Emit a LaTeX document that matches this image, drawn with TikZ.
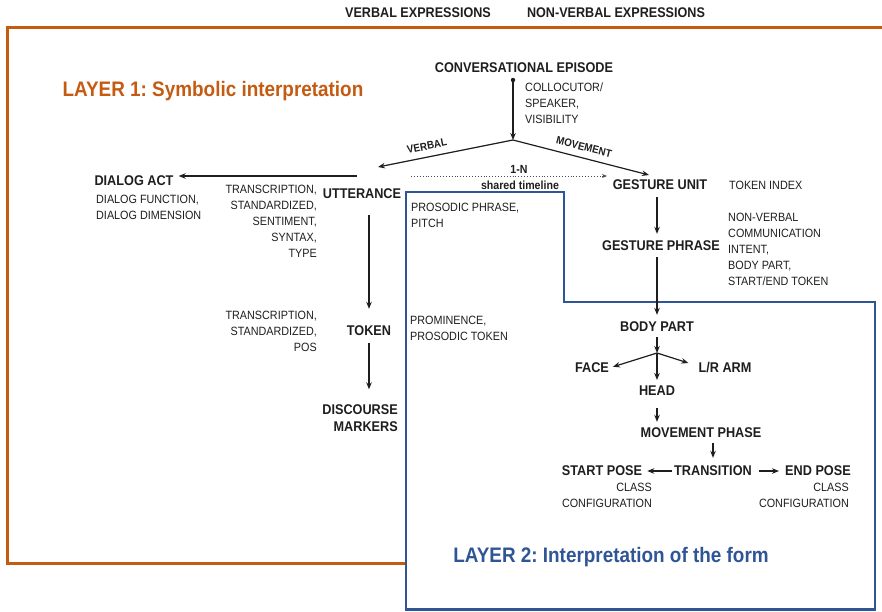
\documentclass[tikz,border=0pt]{standalone}
\usepackage{fontspec}
\setmainfont[FakeStretch=0.9]{Liberation Sans}
\usetikzlibrary{arrows.meta}
\definecolor{orng}{RGB}{197,90,17}
\definecolor{blu}{RGB}{47,85,151}
\definecolor{ink}{RGB}{30,30,30}
\frenchspacing
\begin{document}
\begin{tikzpicture}[x=1pt,y=-1pt,
  lbl/.style={font=\bfseries\fontsize{14.1}{17}\selectfont, inner sep=0pt, text=ink},
  hdr/.style={font=\bfseries\fontsize{14}{14}\selectfont, inner sep=0pt, text=ink},
  attr/.style={font=\fontsize{12}{16}\selectfont, inner sep=0pt, text=ink},
  sml/.style={font=\bfseries\fontsize{11.8}{12}\selectfont, inner sep=0pt, text=ink},
  slope/.style={font=\bfseries\fontsize{10.9}{12}\selectfont, inner sep=0pt, text=ink},
  layer/.style={font=\bfseries\fontsize{21}{22}\selectfont, inner sep=0pt},
  arr/.style={-{Stealth[length=7pt,width=5.5pt]}, line width=1.2pt, draw=ink},
  dotarr/.style={-{Stealth[length=5pt,width=4pt]}, line width=0.9pt, dotted, draw=ink!80}]
\useasboundingbox (0,0) rectangle (882,611);
% frames
\draw[orng, line width=3pt] (885,27) -- (7,27) -- (7,563) -- (406,563);
\draw[blu, line width=2.4pt, fill=white] (406,609.5) -- (406,192) -- (564,192) -- (564,302) -- (875,302) -- (875,609.5) -- cycle;
% headers
\node[hdr] (hv) at (418,13) {VERBAL EXPRESSIONS};
\node[hdr] (hnv) at (616,13) {NON-VERBAL EXPRESSIONS};
\node[layer, text=orng] (l1) at (213,91) {LAYER 1: Symbolic interpretation};
\node[layer, text=blu] (l2) at (611,557) {LAYER 2: Interpretation of the form};
% top
\node[lbl] (ce) at (524,68) {CONVERSATIONAL EPISODE};
\coordinate (dot) at (513,80);
\coordinate (j1) at (513,140);
\fill[ink] (dot) circle (2.2pt);
\draw[arr] (dot) -- (j1);
\node[attr, anchor=west, align=left] (ceattr) at (525,103) {COLLOCUTOR/\\SPEAKER,\\VISIBILITY};
\coordinate (vtip) at (378,167);
\coordinate (mtip) at (649,175);
\draw[arr] (j1) -- (vtip);
\draw[arr] (j1) -- (mtip);
\node[slope, rotate=11.5] (verb) at (427,146) {VERBAL};
\node[slope, rotate=-14] (mov) at (584,147) {MOVEMENT};
\coordinate (tl0) at (411,176);
\coordinate (tl1) at (607,176);
\draw[dotarr] (tl0) -- (tl1);
\node[sml] (onen) at (519,169) {1-N};
\node[sml] (stl) at (520,185) {shared timeline};
% verbal side
\node[lbl] (da) at (134,181) {DIALOG ACT};
\node[attr, anchor=west, align=left] (daattr) at (96,207) {DIALOG FUNCTION,\\DIALOG DIMENSION};
\node[lbl] (utt) at (362,194) {UTTERANCE};
\coordinate (uttl) at (357,176);
\draw[arr] (uttl) -- ([xshift=5pt]da.east |- uttl);
\node[attr, anchor=east, align=right] (uttattr) at (317,221) {TRANSCRIPTION,\\STANDARDIZED,\\SENTIMENT,\\SYNTAX,\\TYPE};
\node[attr, anchor=west, align=left] (pp) at (411,215) {PROSODIC PHRASE,\\PITCH};
\node[lbl] (tok) at (369,331) {TOKEN};
\node[attr, anchor=east, align=right] (tokattr) at (317,331) {TRANSCRIPTION,\\STANDARDIZED,\\POS};
\node[attr, anchor=west, align=left] (prom) at (410,328) {PROMINENCE,\\PROSODIC TOKEN};
\node[lbl, anchor=east, align=right] (dm) at (398,418) {DISCOURSE\\MARKERS};
\draw[arr, shorten <=16pt, shorten >=17pt] (utt.south -| tok.north) -- (tok.north);
\draw[arr, shorten <=7pt, shorten >=15pt] (tok.south) -- (tok.south |- dm.north);
% non-verbal side
\node[lbl] (gu) at (660,185) {GESTURE UNIT};
\node[attr, anchor=west] (ti) at (729,185) {TOKEN INDEX};
\node[lbl] (gp) at (661,246) {GESTURE PHRASE};
\node[attr, anchor=west, align=left] (gpattr) at (728,249) {NON-VERBAL\\COMMUNICATION\\INTENT,\\BODY PART,\\START/END TOKEN};
\node[lbl] (bp) at (657,327) {BODY PART};
\coordinate (j2) at (657,353);
\node[lbl] (face) at (592,368) {FACE};
\node[lbl] (arm) at (725,368) {L/R ARM};
\node[lbl] (head) at (657,391) {HEAD};
\node[lbl] (mp) at (701,433) {MOVEMENT PHASE};
\node[lbl] (tr) at (713,471) {TRANSITION};
\node[lbl] (sp) at (602,471) {START POSE};
\node[lbl] (ep) at (818,471) {END POSE};
\node[attr, anchor=east, align=right] (spattr) at (652,495) {CLASS\\CONFIGURATION};
\node[attr, anchor=east, align=right] (epattr) at (849,495) {CLASS\\CONFIGURATION};
\draw[arr, shorten <=7pt, shorten >=7pt] (gu.south -| bp.north) -- (gp.north -| bp.north);
\draw[arr, shorten <=6pt, shorten >=7pt] (gp.south -| bp.north) -- (bp.north);
\draw[arr, shorten <=5pt] (bp.south) -- (j2);
\draw[arr, shorten >=4pt] (j2) -- (face.east);
\draw[arr] (j2) -- ([xshift=-10pt,yshift=5pt]arm.west);
\draw[arr, shorten >=6pt] (j2) -- (head.north);
\draw[arr, shorten <=12pt, shorten >=6pt] (head.south) -- (head.south |- mp.north);
\draw[arr, shorten <=5pt, shorten >=8pt] (mp.south -| tr.north) -- (tr.north);
\draw[arr, shorten <=2pt, shorten >=5pt] (tr.west) -- (sp.east);
\draw[arr, shorten <=7pt, shorten >=6pt] (tr.east) -- (ep.west);
\end{tikzpicture}
\end{document}
